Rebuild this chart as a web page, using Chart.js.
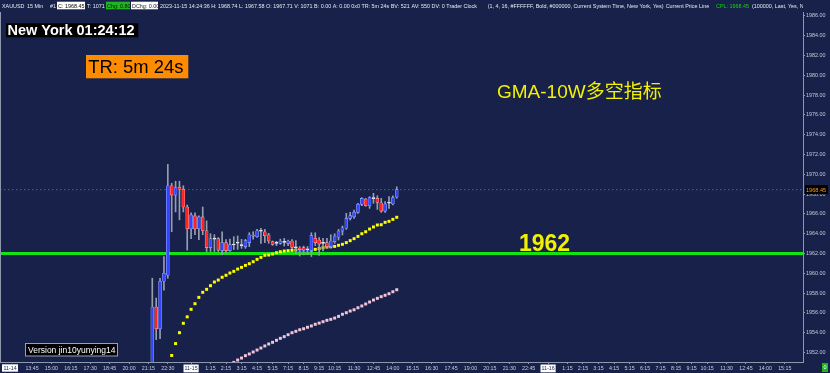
<!DOCTYPE html>
<html><head><meta charset="utf-8">
<script src="https://cdn.jsdelivr.net/npm/chart.js@4.4.0/dist/chart.umd.min.js"></script>
<style>html,body{margin:0;padding:0;background:#17214a;overflow:hidden}#wrap{width:830px;height:373px}</style>
</head><body><div id="wrap"><canvas id="c" width="830" height="373"></canvas></div>
<script>
// ---------- DATA ----------
const startIdx = 31; // bar index of first candle (11-14 21:30)
const opens = [1947.5,1956.6,1954.4,1959.2,1959.8,1968.85,1967.9,1968.7,1968.5,1966.7,1964.5,1965.8,1964.5,1965.7,1964.3,1962.6,1963.5,1963.5,1962.3,1963.1,1962.3,1962.9,1963.05,1962.85,1962.7,1963.1,1963.85,1963.7,1964.3,1964.2,1963.9,1963.2,1963.05,1963.03,1963.15,1963.0,1963.26,1962.6,1962.55,1962.59,1962.4,1962.3,1963.55,1963.36,1963.05,1963.1,1962.7,1963.2,1963.64,1964.27,1964.55,1965.55,1965.7,1966.16,1966.97,1967.5,1966.83,1967.6,1967.57,1967.13,1966.29,1967.12,1967.0,1967.71];
const highs = [1959.5,1957.5,1959.5,1961.7,1971.0,1969.1,1969.3,1969.3,1968.85,1966.9,1966.1,1966.1,1965.8,1966.7,1965.3,1964.0,1963.9,1963.6,1964.2,1963.4,1963.45,1963.7,1963.77,1963.43,1963.43,1964.1,1964.2,1964.44,1964.54,1964.44,1964.04,1963.26,1963.23,1963.46,1963.53,1963.36,1963.4,1963.3,1962.7,1962.75,1962.7,1964.1,1964.1,1963.6,1963.53,1963.53,1963.9,1964.0,1964.44,1964.78,1966.06,1966.16,1966.39,1967.07,1967.64,1967.57,1967.74,1968.08,1967.84,1967.57,1967.24,1967.74,1967.84,1968.74];
const lows = [1947.0,1953.3,1953.4,1958.3,1959.5,1964.2,1966.2,1965.4,1966.2,1962.35,1963.5,1963.9,1963.4,1963.9,1962.2,1962.2,1962.2,1962.2,1961.85,1962.0,1962.2,1962.4,1962.42,1962.52,1962.52,1962.7,1963.45,1963.63,1963.03,1963.1,1963.03,1962.83,1962.8,1962.93,1962.76,1962.8,1962.5,1962.0,1961.75,1961.86,1961.9,1961.7,1962.8,1961.8,1962.25,1962.55,1962.55,1963.03,1963.36,1963.87,1964.44,1965.38,1965.55,1966.06,1966.83,1966.77,1966.56,1967.07,1966.46,1966.16,1966.16,1966.56,1966.9,1967.58];
const closes = [1956.6,1954.4,1959.2,1960.0,1968.85,1967.9,1968.65,1968.5,1966.7,1964.5,1965.9,1964.5,1965.7,1964.3,1962.6,1963.5,1963.45,1962.35,1963.1,1962.3,1962.9,1962.86,1963.1,1962.8,1963.3,1963.9,1963.75,1964.3,1964.25,1963.8,1963.26,1962.93,1963.03,1963.26,1963.12,1963.26,1962.62,1962.58,1962.4,1962.35,1962.38,1963.8,1963.1,1962.95,1963.03,1962.7,1963.26,1963.77,1964.27,1964.6,1965.55,1965.82,1966.16,1966.97,1967.57,1966.83,1967.64,1967.55,1967.17,1966.29,1967.0,1967.08,1967.64,1968.45];

const gmaStart = 36;
const gmaValues = [1951.7,1952.9,1954.0,1954.95,1955.6,1956.36,1956.93,1957.57,1958.08,1958.38,1958.75,1959.12,1959.32,1959.6,1959.8,1960.03,1960.2,1960.43,1960.6,1960.8,1960.97,1961.17,1961.41,1961.61,1961.82,1961.85,1961.95,1962.08,1962.18,1962.25,1962.29,1962.32,1962.35,1962.3,1962.3,1962.3,1962.35,1962.42,1962.5,1962.59,1962.66,1962.69,1962.72,1962.83,1962.93,1963.1,1963.3,1963.5,1963.73,1964.0,1964.2,1964.47,1964.68,1964.88,1964.91,1965.15,1965.25,1965.45,1965.66];
const gmaBlueStart = 69;
const gmaBlueValues = [1962.32,1962.32,1962.32];

const slowStart = 52;
const slowValues = [1951.0,1951.24,1951.44,1951.68,1951.85,1952.05,1952.25,1952.45,1952.66,1952.86,1953.03,1953.23,1953.43,1953.6,1953.8,1954.0,1954.14,1954.3,1954.4,1954.55,1954.68,1954.85,1954.97,1955.11,1955.25,1955.35,1955.48,1955.65,1955.86,1956.02,1956.19,1956.32,1956.52,1956.7,1956.9,1957.1,1957.3,1957.47,1957.64,1957.78,1957.94,1958.14,1958.34];

const levelValue = 1962;
const lastPrice = 1968.45;

const leftDateLabel = '11-14';
const tickIdx = [0,5,10,15,20,25,30,35,41,46,50,54,58,62,66,70,74,78,83,88,93,98,103,108,113,118,123,128,133,138,142,146,150,154,158,162,166,170,174,179,184,189,194];
const tickText = ['13:45','15:00','16:15','17:30','18:45','20:00','21:15','22:30','11-15','1:15','2:15','3:15','4:15','5:15','7:15','8:15','9:15','10:15','11:30','12:45','14:00','15:15','16:30','17:45','19:00','20:15','21:30','22:45','11-16','1:15','2:15','3:15','4:15','5:15','6:15','7:15','8:15','9:15','10:15','11:30','12:45','14:00','15:15'];
const yTicks = [1952,1954,1956,1958,1960,1962,1964,1966,1968,1970,1972,1974,1976,1978,1980,1982,1984,1986];

const xMin = -8.25, xMax = 198.7, yMin = 1951.04, yMax = 1986.4;

// ---------- STYLE ----------
const BG = '#17214a';
const FONT = '"Liberation Sans", Arial, sans-serif';
const AXIS = '#8f97ad';

const bodies = opens.map((o,i)=>({x:startIdx+i, y:[o, closes[i]]}));
const wicks = lows.map((l,i)=>({x:startIdx+i, y:[l, highs[i]]}));
const gma = gmaValues.map((v,i)=>({x:gmaStart+i, y:v}));
const gmaBlue = gmaBlueValues.map((v,i)=>({x:gmaBlueStart+i, y:v}));
const slow = slowValues.map((v,i)=>({x:slowStart+i, y:v}));

function candleKind(i){ const d = closes[i]-opens[i]; if (Math.abs(d) < 0.08) return 0; return d>0?1:-1; }
const isDate = t => /^\d\d-\d\d$/.test(t);

const overlay = {
  id:'overlay',
  beforeDraw(chart){
    const c = chart.ctx; c.save(); c.fillStyle = BG; c.fillRect(0,0,chart.width,chart.height); c.restore();
  },
  afterDraw(chart){
    const c = chart.ctx, y = chart.scales.y, a = chart.chartArea;
    c.save();
    // left border
    c.strokeStyle = AXIS; c.lineWidth = 1;
    c.beginPath(); c.moveTo(0.5, a.top); c.lineTo(0.5, a.bottom); c.stroke();

    // sticky date label at left of the time axis
    c.fillStyle = '#ffffff'; c.fillRect(2, 364.3, 16, 7.4);
    c.fillStyle = '#1b2450'; c.font = '5.3px ' + FONT; c.textBaseline = 'middle'; c.textAlign = 'center';
    c.fillText(leftDateLabel, 10, 368.2);
    c.textAlign = 'left';

    // header
    c.save(); c.beginPath(); c.rect(0,0,a.right,11.5); c.clip();
    c.font = '5.4px ' + FONT; c.textBaseline = 'alphabetic';
    const segs = [
      {x:2,t:'XAUUSD'},{x:27,t:'15 Min'},{x:50,t:'#1'},
      {x:57,t:'C: 1968.45',box:'#ffffff',w:28,col:'#000000'},
      {x:87,t:'T: 1071'},
      {x:106,t:'Chg: 0.80',box:'#1fb51f',w:24,col:'#111111'},
      {x:131,t:'DChg: 0.00',box:'#ffffff',w:27,col:'#222222'},
      {x:160,t:'2023-11-15 14:24:36 H: 1968.74 L: 1967.58 O: 1967.71 V: 1071 B: 0.00 A: 0.00 0x0 TR: 5m 24s BV: 521'},
      {x:411.5,t:'AV: 550 DV: 0 Trader Clock'},
      {x:487.7,t:'(1, 4, 16, #FFFFFF, Bold, #000000, Current System Time, New York, Yes)'},
      {x:665.7,t:'Current Price Line'},
      {x:716,t:'CPL: 1968.45',col:'#19d219'},
      {x:752,t:'(100000, Last, Yes, No, #00FF00)'}
    ];
    segs.forEach(s=>{
      if (s.box){ c.fillStyle = s.box; c.fillRect(s.x, 1.7, s.w, 7.6); }
      c.fillStyle = s.col || '#e6e9f2';
      c.fillText(s.t, s.x + (s.box?1:0), 7.5);
    });
    c.restore();

    // clock box
    c.fillStyle = '#000000'; c.fillRect(6, 23.3, 132.3, 14);
    c.fillStyle = '#ffffff'; c.font = 'bold 14.5px ' + FONT; c.textBaseline = 'alphabetic';
    c.fillText('New York 01:24:12', 7.5, 35.2);

    // TR box
    c.fillStyle = '#ff8c00'; c.fillRect(86, 55, 102.3, 23.3);
    c.fillStyle = '#000000'; c.font = '18.4px ' + FONT;
    c.fillText('TR: 5m 24s', 88.3, 73.3);

    // title
    c.fillStyle = '#f2f200'; c.font = '19px ' + FONT + ', "Noto Sans CJK SC"';
    c.fillText('GMA-10W多空指标', 497, 98);

    // level label
    const ly = y.getPixelForValue(levelValue);
    c.fillStyle = '#f0f000'; c.font = 'bold 23px ' + FONT;
    c.fillText(String(levelValue), 519, ly - 2.5);

    // version box
    c.fillStyle = '#000000'; c.fillRect(25, 343.5, 92, 12.5);
    c.strokeStyle = '#9aa0b4'; c.lineWidth = 1; c.strokeRect(25.5, 343.5, 92, 12.5);
    c.fillStyle = '#ffffff'; c.font = '8.5px ' + FONT;
    c.fillText('Version jin10yunying14', 28, 353.3);

    // current price tag
    const py = y.getPixelForValue(lastPrice);
    c.fillStyle = '#000000'; c.fillRect(a.right + 2, py - 4.5, 23, 9);
    c.fillStyle = '#ff9a1a'; c.font = '5.6px ' + FONT; c.textBaseline = 'middle';
    c.fillText(lastPrice.toFixed(2), a.right + 3, py + 0.3);

    // bottom-right small box
    c.fillStyle = '#22b322'; c.fillRect(822, 363, 6, 9);
    c.fillStyle = '#ffffff'; c.font = '5.5px ' + FONT;
    c.fillText('0', 823.5, 367.8);
    c.restore();
  }
};

new Chart(document.getElementById('c'), {
  data: {
    datasets: [
      { type:'bar', label:'body', data: bodies, grouped:false, order:1,
        barPercentage:1, categoryPercentage:1, maxBarThickness:3, minBarLength:1,
        borderWidth:0.6, borderSkipped:false,
        backgroundColor: ctx => { const k = candleKind(ctx.dataIndex); return k===0?'#e9e9f2':(k>0?'#2f45ff':'#ff2222'); },
        borderColor: ctx => { const k = candleKind(ctx.dataIndex); return k===0?'#e9e9f2':(k>0?'#97a3ff':'#ffa0a0'); } },
      { type:'bar', label:'wick', data: wicks, grouped:false, order:2,
        barPercentage:1, categoryPercentage:1, maxBarThickness:1, backgroundColor:'#979db0', borderWidth:0 },
      { type:'line', label:'gmaBlue', data: gmaBlue, showLine:false, order:3,
        pointStyle:'rect', pointRadius:2.3, pointHoverRadius:0, pointBorderWidth:0, pointBackgroundColor:'#1530ff' },
      { type:'line', label:'gma', data: gma, showLine:false, order:4,
        pointStyle:'rect', pointRadius:2.1, pointHoverRadius:0, pointBorderWidth:0, pointBackgroundColor:'#ffff00' },
      { type:'line', label:'slow', data: slow, showLine:false, order:5,
        pointStyle:'rect', pointRadius:2.1, pointHoverRadius:0, pointBorderWidth:0, pointBackgroundColor:'#f2c4d8' },
      { type:'line', label:'cpl', data:[{x:xMin,y:lastPrice},{x:xMax,y:lastPrice}], order:9,
        borderColor:'#2f7f4c', borderWidth:1, borderDash:[1.5,2.5], pointRadius:0, pointHoverRadius:0 },
      { type:'line', label:'level', data:[{x:xMin,y:levelValue},{x:xMax,y:levelValue}], order:10,
        borderColor:'#12e412', borderWidth:3, pointRadius:0, pointHoverRadius:0 }
    ]
  },
  options: {
    responsive:false, animation:false, devicePixelRatio:1,
    layout:{ autoPadding:false, padding:{ top:12, left:0, right:0, bottom:0 } },
    plugins:{ legend:{display:false}, tooltip:{enabled:false} },
    events:[],
    scales:{
      x:{ type:'linear', min:xMin, max:xMax, offset:false,
        afterBuildTicks: s => { s.ticks = tickIdx.map(v=>({value:v})); },
        afterFit: s => { s.height = 11; s.paddingLeft = 0; s.paddingRight = 0; },
        ticks:{ autoSkip:false, maxRotation:0, minRotation:0, padding:1.5,
          callback:(v,i)=>tickText[i],
          font:{ size:5.3, family:FONT },
          color: ctx => isDate(tickText[ctx.index]) ? '#1b2450' : '#c7ccd9',
          showLabelBackdrop: ctx => isDate(tickText[ctx.index]),
          backdropColor:'#ffffff',
          backdropPadding:{ top:1, bottom:0.5, left:1, right:1 } },
        grid:{ offset:false, drawOnChartArea:false, drawTicks:true, tickLength:2, color:AXIS },
        border:{ display:true, color:AXIS, width:1 } },
      y:{ type:'linear', position:'right', min:yMin, max:yMax, beginAtZero:false,
        afterBuildTicks: s => { s.ticks = yTicks.map(v=>({value:v})); },
        afterFit: s => { s.width = 27; s.paddingTop = 0; s.paddingBottom = 0; },
        ticks:{ padding:1, callback: v => Number(v).toFixed(2), font:{ size:5.4, family:FONT }, color:'#c4cad9' },
        grid:{ drawOnChartArea:false, drawTicks:true, tickLength:2, color:AXIS },
        border:{ display:true, color:AXIS, width:1 } }
    }
  },
  plugins:[overlay]
});
</script>
</body></html>
